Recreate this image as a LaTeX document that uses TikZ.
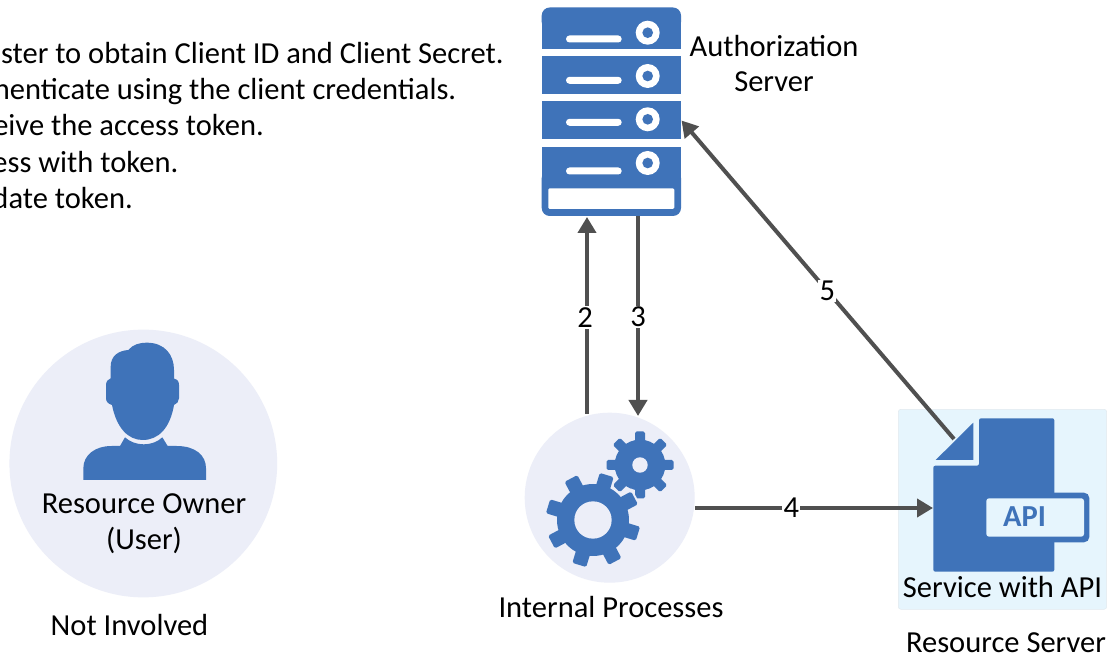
\documentclass[tikz,border=0pt]{standalone}
\usepackage{fontspec}
\setmainfont{Carlito}
\usetikzlibrary{arrows.meta}
\definecolor{iconblue}{HTML}{3F73B9}
\definecolor{softdisc}{HTML}{ECEEF8}
\definecolor{apibg}{HTML}{E6F5FD}
\definecolor{linkgrey}{HTML}{505050}
\tikzset{
  px/.style={x=0.75pt,y=-0.75pt},
  txt/.style={font=\fontsize{22.9}{26}\selectfont,text=black,inner sep=0pt,align=center},
  listline/.style={font=\fontsize{22.9}{26}\selectfont,text=black,inner sep=0pt,anchor=base east},
  disc/.style={circle,fill=softdisc,inner sep=0pt},
  link/.style={draw=linkgrey,line width=3pt,-{Triangle[length=12pt,width=13.5pt]}},
  steplabel/.style={fill=white,font=\fontsize{22.9}{26}\selectfont,inner sep=1pt},
}
\newcommand{\gearshape}[6]{% x y body toothouter toothwidth startangle
  \foreach \k in {0,...,7}{
    \fill[iconblue,rounded corners=1.2pt,rotate around={#6+45*\k:(#1,#2)}]
      (#1,#2-#5/2) rectangle (#1+#4,#2+#5/2);
  }
  \fill[iconblue] (#1,#2) circle (#3);
}
\begin{document}
\begin{tikzpicture}[px]
\useasboundingbox (0,0) rectangle (1118,655);
\fill[white] (0,0) rectangle (1118,655);

% instruction list
\node[listline] at (504,64) {ister to obtain Client ID and Client Secret.};
\node[listline] at (456.5,100) {henticate using the client credentials.};
\node[listline] at (264,136) {eive the access token.};
\node[listline] at (178.5,173) {ess with token.};
\node[listline] at (133,209) {date token.};

% authorization server
\begin{scope}
\fill[iconblue,rounded corners=6pt] (541.7,7.5) rectangle (681,30);
\fill[iconblue] (541.7,20) rectangle (681,49.3);
\fill[iconblue] (541.7,56) rectangle (681,94.3);
\fill[iconblue] (541.7,101.3) rectangle (681,139.3);
\fill[iconblue] (541.7,146.7) rectangle (681,190);
\fill[iconblue,rounded corners=6pt] (541.7,170) rectangle (681,216);
\fill[white,rounded corners=1pt] (548.3,188.3) rectangle (674.3,209);
\foreach \cy/\ly in {32.7/39,76/80.3,119.3/122.3,163/171}{
  \fill[white,rounded corners=2.6pt] (566,\ly-3.5) rectangle (621.7,\ly+3.5);
  \fill[white] (647.7,\cy) circle (9pt);
  \fill[iconblue] (647.7,\cy) circle (4pt);
}
\end{scope}
\node[minimum width=104.5pt,minimum height=156pt,inner sep=0pt] (server) at (611.3,111.7) {};
\node[txt] (authA) at (774,46) {Authorization};
\node[txt] (authB) at (774,81.5) {Server};

% resource owner
\node[disc,minimum size=200.8pt] (owner) at (143.3,463.5) {};
\begin{scope}[shift={(0,320)},x=0.25pt,y=-0.25pt]
\fill[iconblue] (332,175) -- (332,140) .. controls (332,108) and (355,92) .. (385,90)
  .. controls (398,74) and (418,68) .. (440,68)
  .. controls (495,68) and (522,105) .. (522,150) -- (522,176)
  .. controls (532,178) and (537,184) .. (537,195) -- (537,235)
  .. controls (537,245) and (530,252) .. (522,255)
  .. controls (510,325) and (475,360) .. (428,360)
  .. controls (385,360) and (350,325) .. (336,255)
  .. controls (325,252) and (318,245) .. (318,235) -- (318,195)
  .. controls (318,184) and (324,178) .. (332,175) -- cycle;
\fill[iconblue] (250,480) -- (250,445)
  .. controls (250,405) and (285,378) .. (335,378) -- (360,378) -- (375,352)
  .. controls (405,380) and (458,380) .. (487,352) -- (503,378) -- (530,378)
  .. controls (585,378) and (618,405) .. (618,445) -- (618,480) -- cycle;
\end{scope}
\node[txt] (ownerA) at (144,503.5) {Resource Owner};
\node[txt] (ownerB) at (144,540.5) {(User)};
\node[txt] (none) at (129.5,625) {Not Involved};

% internal processes
\node[disc,minimum size=127.5pt] (proc) at (609.7,497.7) {};
\gearshape{640}{465}{19pt}{33.5}{10}{0}
\fill[softdisc] (640,465) circle (5.8pt);
\begin{scope}
\foreach \k in {0,...,7}{
  \fill[softdisc,rotate around={28+45*\k:(593,520)}] (593,520-9.5) rectangle (593+49,520+9.5);
}
\end{scope}
\gearshape{593}{520}{27pt}{47}{14.5}{28}
\fill[softdisc] (593,520) circle (14pt);
\node[txt] (procT) at (611,607) {Internal Processes};

% resource server
\fill[apibg,draw=apibg!90!black!60!white,line width=0.4pt,rounded corners=2pt] (898.3,409.3) rectangle (1106.7,609.3);
\begin{scope}[shift={(890,400)},x=0.25pt,y=-0.25pt]
\fill[iconblue,rounded corners=1.5pt] (267,55) -- (493,55) -- (493,515) -- (130,515) -- (130,197) -- (267,197) -- cycle;
\fill[iconblue] (250,68) -- (250,180) -- (137,180) -- cycle;
\fill[iconblue,rounded corners=4pt] (440,278) rectangle (598,427);
\fill[apibg,rounded corners=2pt] (289,295) rectangle (582,410);
\end{scope}
\node[font=\fontsize{22.9}{26}\selectfont\bfseries,text=iconblue,inner sep=0pt] (apiT) at (1024.5,516.5) {API};
\node[txt] (svc) at (1002.5,587) {Service with API};
\node[txt] (resT) at (1006,642.5) {Resource Server};

% connector ends
\coordinate (s2) at (587,414);
\coordinate (e2) at (587,217);
\coordinate (s3) at (638,216);
\coordinate (e3) at (638,416);
\coordinate (s4) at (695,508);
\coordinate (e4) at (933,508);
\coordinate (s5) at (954,439);
\coordinate (e5) at (681.5,120.5);

\draw[link] (s2) -- node[steplabel,pos=0.49,xshift=-1.5pt] (l2) {2} (e2);
\draw[link] (s3) -- node[steplabel,pos=0.505] (l3) {3} (e3);
\draw[link] (s4) -- node[steplabel,pos=0.405] (l4) {4} (e4);
\draw[link] (s5) -- node[steplabel,pos=0.465] (l5) {5} (e5);
\end{tikzpicture}
\end{document}
